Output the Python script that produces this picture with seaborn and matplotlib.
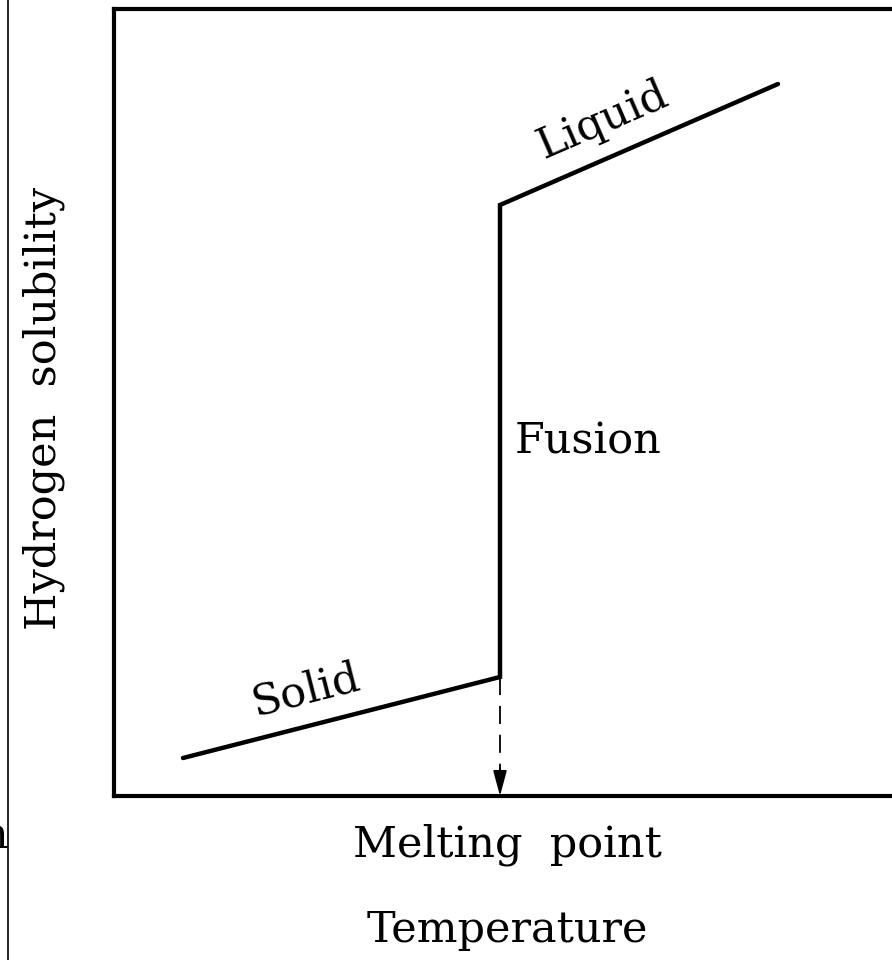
import matplotlib
matplotlib.use("Agg")
import matplotlib.pyplot as plt
import seaborn as sns
import pandas as pd

sns.set_theme(style="white")
plt.rcParams['font.family'] = ['DejaVu Serif', 'Liberation Serif']

# data (arbitrary units)
temperature = [69, 386, 386, 664]
solubility = [38, 119, 591, 712]
melting_point = 386
axis_labels = ["Hydrogen  solubility", "Temperature"]
phase_labels = ["Solid", "Fusion", "Liquid"]
tick_label = "Melting  point"

W, H = 892, 960
fig = plt.figure(figsize=(W / 100, H / 100), dpi=100)
fig.patch.set_facecolor("white")

def px(x, y):
    return x / W, 1 - y / H

ax_left, ax_top, ax_bottom, ax_right = 114, 9, 796, 900
ax = fig.add_axes([ax_left / W, 1 - ax_bottom / H, (ax_right - ax_left) / W, (ax_bottom - ax_top) / H])
ax.set_facecolor("white")

df = pd.DataFrame({"T": temperature, "S": solubility})
sns.lineplot(data=df, x="T", y="S", sort=False, estimator=None, color="black", lw=3.2, ax=ax)
ax.lines[0].set_solid_joinstyle("miter")

ax.set_xlim(0, ax_right - ax_left)
ax.set_ylim(0, ax_bottom - ax_top)
ax.set_xticks([])
ax.set_yticks([])
ax.set_xlabel("")
ax.set_ylabel("")
for s in ax.spines.values():
    s.set_color("black")
    s.set_linewidth(3)

# dashed drop line with arrow
ax.plot([melting_point, melting_point], [solubility[1], 22], color="black", lw=1.3,
        dashes=(10, 6))
ax.annotate("", xy=(melting_point, 0), xytext=(melting_point, 28),
            arrowprops=dict(arrowstyle="-|>,head_length=1.3,head_width=0.35", color="black", lw=1.3,
                            shrinkA=0, shrinkB=0))

fs = 31
ax.text(306 - ax_left, ax_bottom - 690, phase_labels[0], fontsize=fs, rotation=14.3,
        ha="center", va="center", rotation_mode="anchor", color="black")
ax.text(603 - ax_left, ax_bottom - 120, phase_labels[2], fontsize=fs, rotation=23.5,
        ha="center", va="center", rotation_mode="anchor", color="black")
fig.text(*px(515, 453), phase_labels[1], fontsize=fs, ha="left", va="baseline", color="black")

fig.text(*px(507, 857), tick_label, fontsize=fs, ha="center", va="baseline", color="black")
fig.text(*px(507, 942), axis_labels[1], fontsize=fs, ha="center", va="baseline", color="black")
fig.text(*px(44, 408), axis_labels[0], fontsize=fs, ha="center", va="center", rotation=90, color="black")

# page edge artifacts
fig.add_artist(plt.Line2D([8 / W, 8 / W], [0, 1], color="black", lw=1.2))
fig.text(*px(8, 848), "n", fontsize=fs, ha="right", va="baseline", color="black")

fig.savefig("out.png", dpi=100, facecolor="white")
